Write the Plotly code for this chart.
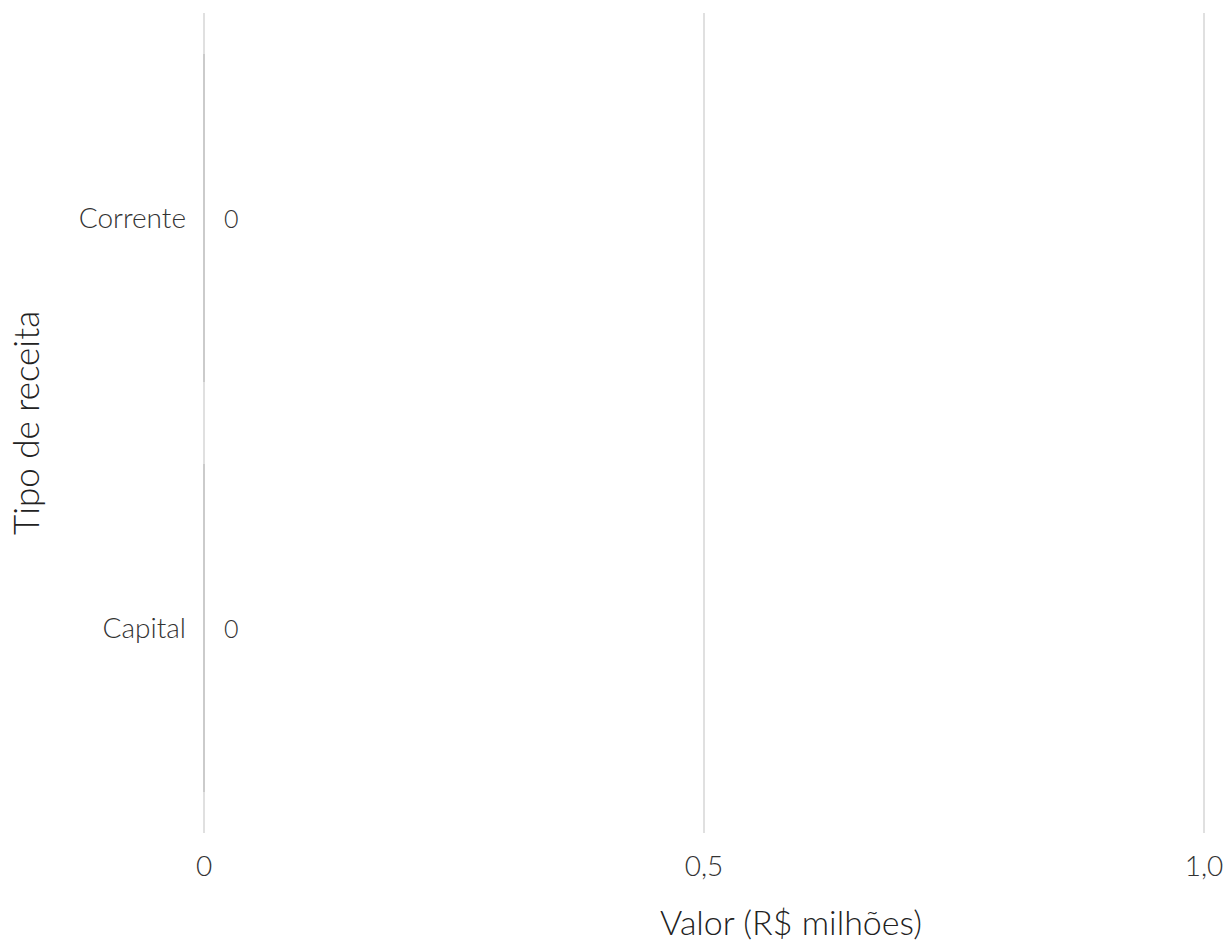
import plotly.graph_objects as go

categorias = ["Capital", "Corrente"]
valores = [0, 0]
rotulos = ["0", "0"]
tick_vals = [0, 0.5, 1.0]
tick_text = ["0", "0,5", "1,0"]
titulo_x = "Valor (R$ milhões)"
titulo_y = "Tipo de receita"

font_family = "Lato Light, Lato"
txt_color = "#333333"

fig = go.Figure()
fig.add_trace(go.Bar(
    y=categorias,
    x=valores,
    orientation="h",
    cliponaxis=False,
    marker=dict(color="#c4c4c4", line=dict(color="#c4c4c4", width=1.5)),
    width=0.8,
    hoverinfo="skip",
))

for cat, val, lab in zip(categorias, valores, rotulos):
    fig.add_annotation(
        x=val, y=cat, text=lab, showarrow=False,
        xanchor="left", xshift=18,
        font=dict(family=font_family, size=25, color=txt_color, weight=300),
    )

# x-axis title (placed off-centre as in the reference)
fig.add_annotation(
    xref="paper", yref="paper", x=0.5863, y=-0.1085,
    xanchor="center", yanchor="middle", showarrow=False,
    borderpad=0,
    text=titulo_x,
    font=dict(family=font_family, size=34, color="#222222", weight=300),
)

fig.update_layout(
    width=1231,
    height=946,
    margin=dict(l=200, r=23, t=13, b=113),
    plot_bgcolor="white",
    paper_bgcolor="white",
    showlegend=False,
    font=dict(family=font_family, size=26, color=txt_color, weight=300),
    xaxis=dict(
        range=[-0.004, 1.004],
        tickvals=tick_vals,
        ticktext=tick_text,
        showgrid=True,
        gridcolor="#e0e0e0",
        gridwidth=2,
        zeroline=False,
        showline=False,
        ticks="",
        automargin=False,
        ticklabelstandoff=14,
        tickfont=dict(family=font_family, size=28, color=txt_color, weight=300),
    ),
    yaxis=dict(
        categoryorder="array",
        categoryarray=categorias,
        showgrid=False,
        zeroline=False,
        showline=False,
        ticks="",
        automargin=False,
        ticklabelstandoff=13,
        tickfont=dict(family=font_family, size=28, color=txt_color, weight=300),
        title=dict(text=titulo_y, standoff=28,
                   font=dict(family=font_family, size=35, color="#222222", weight=300)),
    ),
)

fig.write_html(
    "out.html",
    config={"displayModeBar": False},
    post_script="document.body.style.margin='0px';document.body.style.overflow='hidden';",
)
